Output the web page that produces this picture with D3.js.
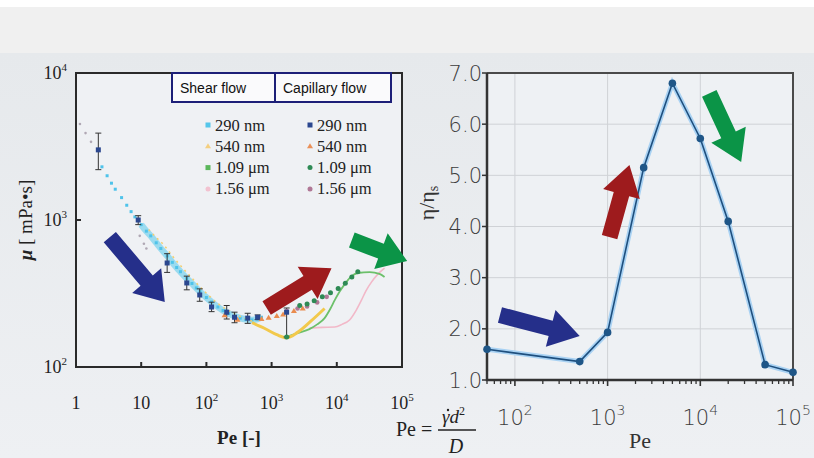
<!DOCTYPE html>
<html><head><meta charset="utf-8">
<script src="https://cdn.jsdelivr.net/npm/d3@7"></script>
<style>body{margin:0;padding:0;overflow:hidden;background:#fff}svg{display:block}</style>
</head><body>
<svg id="c" width="814" height="458"></svg>
<script>
// ---------------- DATA (left: viscosity vs Pe) ----------------
const leftXTicks = [1, 10, 100, 1000, 10000, 100000];
const leftYTicks = [100, 1000, 10000];
// Shear flow series [Pe, mu]
const shear290 = [[2.5,2300],[3,2000],[3.5,1780],[4,1620],[5,1420],[6,1260],[7,1140],[8,1050],[10,930],[12,840],[14,780],[17,700],[20,640],[25,570],[30,515],[35,475],[40,445],[50,400],[60,370],[70,345],[80,325],[100,297],[120,277],[150,256],[180,242],[220,231],[270,222],[330,215],[400,211],[500,209],[600,212],[700,218]];
const shear540Dots = [[13,860],[17,760],[22,680],[30,570],[40,490],[55,420],[80,350],[110,305],[150,270],[200,248],[280,228],[380,215],[500,205]];
const shear540Line = [[500,200],[800,182],[1200,166],[1700,158],[2500,172],[4000,205],[6500,250]];
const shear109Line = [[1700,160],[2500,170],[3800,181],[5000,195],[6500,215],[8000,250],[9300,285],[11000,325],[13000,362],[16000,405],[21000,436],[32000,442],[45000,430],[54000,410]];
const shear156Line = [[3800,184],[6000,186],[9300,187],[12000,195],[15700,209],[20000,245],[24000,286],[28000,330],[34000,378],[42000,425],[54000,470]];
const shear156Dots = [[1.15,4500],[1.4,3900],[1.7,3400],[9.5,780],[11,690],[12,640]];
// Capillary flow series [Pe, mu, low, high]
const cap290 = [[2.2,3000,2200,3900],[9,1000,930,1070],[25,510,440,590],[50,373,335,415],[79,309,280,340],[120,256,238,276],[205,236,212,262],[270,218,200,236],[430,215,198,232],[610,218,210,226],[1700,236,160,252]];
const cap540 = [[190,225],[300,210],[700,212],[900,216],[1200,222],[1500,228],[2200,240],[3000,250]];
const cap109 = [[1700,160],[2700,262],[3500,268],[4500,282],[6000,300],[8000,320],[10500,342],[13500,372],[17000,410],[21000,445]];
const cap156 = [[1700,240],[2500,250],[3500,258],[5000,275],[7000,300]];
const legendSizes = ["290 nm","540 nm","1.09 μm","1.56 μm"];
const legendHeads = ["Shear flow","Capillary flow"];

// ---------------- DATA (right: eta/eta_s vs Pe) ----------------
const rightPe = [50, 500, 1000, 2450, 5000, 10000, 20000, 50000, 100000];
const rightEta = [1.6, 1.36, 1.93, 5.15, 6.8, 5.72, 4.1, 1.3, 1.15];
const rightYTicks = [1, 2, 3, 4, 5, 6, 7];
const rightXTicks = [100, 1000, 10000, 100000];

// Arrows [tailPe, tailVal, tipPe, tipVal]
const leftArrows = [
  {c:"#252f8a", a:[3.3,765,23,277]},
  {c:"#9e1b1d", a:[840,252,8300,470]},
  {c:"#0b9447", a:[17000,730,120000,526]}
];
const rightArrows = [
  {c:"#252f8a", a:[69,2.27,500,1.86]},
  {c:"#9e1b1d", a:[1050,3.79,1720,5.2]},
  {c:"#0b9447", a:[12500,6.6,27600,5.26]}
];

// ---------------- DRAW ----------------
const svg = d3.select("#c");
const defs = svg.append("defs");
const g1 = defs.append("linearGradient").attr("id","bg").attr("x1",0).attr("y1",0).attr("x2",0).attr("y2",1);
g1.append("stop").attr("offset","0").attr("stop-color","#e6e9ec");
g1.append("stop").attr("offset","1").attr("stop-color","#eef0f3");
svg.append("rect").attr("width",814).attr("height",458).attr("fill","#fff");
svg.append("rect").attr("y",7).attr("width",814).attr("height",46).attr("fill","#f0f0f0");
svg.append("rect").attr("y",53).attr("width",814).attr("height",405).attr("fill","url(#bg)");

const serif = "'Liberation Serif','Times New Roman',serif";
const sans = "'Liberation Sans',Arial,sans-serif";
const thin = "'DejaVu Sans',sans-serif";

function supLabel(sel, v, supfs, dy){
  const e = Math.round(Math.log10(v));
  if (e === 0) { sel.text("1"); return; }
  if (e === 1) { sel.text("10"); return; }
  sel.append("tspan").text("10");
  sel.append("tspan").attr("font-size",supfs).attr("dy",dy).text(e);
}
function arrowPath(x1,y1,x2,y2,sw,hw,hl){
  const L = Math.hypot(x2-x1,y2-y1), ux=(x2-x1)/L, uy=(y2-y1)/L, nx=-uy, ny=ux;
  const bx=x2-ux*hl, by=y2-uy*hl;
  const p=[[x1+nx*sw/2,y1+ny*sw/2],[bx+nx*sw/2,by+ny*sw/2],[bx+nx*hw/2,by+ny*hw/2],[x2,y2],[bx-nx*hw/2,by-ny*hw/2],[bx-nx*sw/2,by-ny*sw/2],[x1-nx*sw/2,y1-ny*sw/2]];
  return "M"+p.map(q=>q.join(",")).join("L")+"Z";
}

// ===== LEFT CHART =====
const xL = d3.scaleLog().domain([1,1e5]).range([76,402]);
const yL = d3.scaleLog().domain([100,1e4]).range([367,73]);
const L = svg.append("g");
L.append("rect").attr("x",76).attr("y",73).attr("width",326).attr("height",294).attr("fill","#eff1f4");

const lineL = d3.line().x(d=>xL(d[0])).y(d=>yL(d[1])).curve(d3.curveMonotoneX);
L.append("path").attr("d",lineL(shear290.filter(d=>d[0]>=9))).attr("fill","none").attr("stroke","#7fd3ee").attr("stroke-width",6.5).attr("stroke-opacity",0.75);
L.selectAll(".s290").data(shear290).join("rect").attr("x",d=>xL(d[0])-1.5).attr("y",d=>yL(d[1])-1.5).attr("width",3).attr("height",3).attr("fill","#4fc3ea");
L.append("path").attr("d",lineL(shear540Dots)).attr("fill","none").attr("stroke","#f3cf72").attr("stroke-width",1.5).attr("stroke-dasharray","2,4");
L.selectAll(".s156d").data(shear156Dots).join("circle").attr("cx",d=>xL(d[0])).attr("cy",d=>yL(d[1])).attr("r",1.3).attr("fill","#b0a8b4");
L.append("path").attr("d",lineL(shear156Line)).attr("fill","none").attr("stroke","#f2b8c8").attr("stroke-width",1.6);
L.append("path").attr("d",lineL(shear109Line)).attr("fill","none").attr("stroke","#6cc06a").attr("stroke-width",1.8);
L.append("path").attr("d",lineL(shear540Line)).attr("fill","none").attr("stroke","#f2c94c").attr("stroke-width",3);

L.selectAll(".eb").data(cap290).join("path")
  .attr("d",d=>`M${xL(d[0])},${yL(d[2])}V${yL(d[3])}M${xL(d[0])-3},${yL(d[2])}h6M${xL(d[0])-3},${yL(d[3])}h6`)
  .attr("stroke","#333").attr("stroke-width",1).attr("fill","none");
L.selectAll(".c156").data(cap156).join("circle").attr("cx",d=>xL(d[0])).attr("cy",d=>yL(d[1])).attr("r",2.3).attr("fill","#b07896");
L.selectAll(".c540").data(cap540).join("path").attr("d",d=>{const x=xL(d[0]),y=yL(d[1]);return `M${x},${y-3}L${x+3},${y+2}L${x-3},${y+2}Z`;}).attr("fill","#ea8c4e");
L.selectAll(".c109").data(cap109).join("circle").attr("cx",d=>xL(d[0])).attr("cy",d=>yL(d[1])).attr("r",2.5).attr("fill","#2e8a55");
L.selectAll(".c290").data(cap290).join("rect").attr("x",d=>xL(d[0])-2.5).attr("y",d=>yL(d[1])-2.5).attr("width",5).attr("height",5).attr("fill","#2b478f");

L.append("rect").attr("x",76).attr("y",73).attr("width",326).attr("height",294).attr("fill","none").attr("stroke","#2a2a2a").attr("stroke-width",2);
L.selectAll(".xt").data(leftXTicks.slice(1,-1)).join("line").attr("x1",d=>xL(d)).attr("x2",d=>xL(d)).attr("y1",367).attr("y2",362).attr("stroke","#2a2a2a").attr("stroke-width",2);
L.selectAll(".yt").data([1000]).join("line").attr("x1",76).attr("x2",81).attr("y1",d=>yL(d)).attr("y2",d=>yL(d)).attr("stroke","#2a2a2a").attr("stroke-width",2);
L.selectAll(".xl").data(leftXTicks).join("text").attr("x",d=>xL(d)).attr("y",409).attr("text-anchor","middle")
  .attr("font-family",serif).attr("font-size",18).attr("fill","#222").each(function(d){supLabel(d3.select(this),d,11,-8);});
L.selectAll(".yl").data(leftYTicks).join("text").attr("x",67).attr("y",d=>yL(d)+6).attr("text-anchor","end")
  .attr("font-family",serif).attr("font-size",18).attr("fill","#222").each(function(d){supLabel(d3.select(this),d,11,-8);});
L.append("text").attr("x",239).attr("y",444).attr("text-anchor","middle").attr("font-family",serif).attr("font-size",19).attr("font-weight","bold").attr("fill","#222").text("Pe [-]");
const yt = L.append("text").attr("transform","translate(32,220) rotate(-90)").attr("text-anchor","middle").attr("font-family",serif).attr("font-size",19).attr("fill","#222");
yt.append("tspan").attr("font-style","italic").attr("font-weight","bold").text("μ");
yt.append("tspan").text(" [ mPa•s]");

// legend
const heads = L.selectAll(".lh").data(legendHeads).join("g");
heads.append("rect").attr("x",(d,i)=>i?275:172).attr("y",73).attr("width",(d,i)=>i?116:103).attr("height",29).attr("fill","#fafafc").attr("stroke","#1d1f78").attr("stroke-width",2);
heads.append("text").attr("x",(d,i)=>i?283:180).attr("y",93).attr("font-family",sans).attr("font-size",14).attr("fill","#111").text(d=>d);
const rowY = i=>125+i*21.3;
const shearCols = ["#55c6ea","#f4cf80","#5bb75b","#f2c2d0"];
const capCols = ["#2b478f","#ea9058","#2e8a55","#b07896"];
const shapes = ["sq","tri","sq","dot"], capShapes=["sq","tri","dot","dot"];
function marker(sel,x,y,shape,col){
  if(shape==="sq") sel.append("rect").attr("x",x-2.5).attr("y",y-2.5).attr("width",5).attr("height",5).attr("fill",col);
  else if(shape==="tri") sel.append("path").attr("d",`M${x},${y-3}L${x+3},${y+2}L${x-3},${y+2}Z`).attr("fill",col);
  else sel.append("circle").attr("cx",x).attr("cy",y).attr("r",2.5).attr("fill",col);
}
legendSizes.forEach((s,i)=>{
  marker(L,208,rowY(i),shapes[i],shearCols[i]);
  L.append("text").attr("x",215).attr("y",rowY(i)+5.5).attr("font-family",serif).attr("font-size",16.5).attr("fill","#222").text(s);
  marker(L,310,rowY(i),capShapes[i],capCols[i]);
  L.append("text").attr("x",317).attr("y",rowY(i)+5.5).attr("font-family",serif).attr("font-size",16.5).attr("fill","#222").text(s);
});

// ===== RIGHT CHART =====
const xR = d3.scaleLog().domain([50,1e5]).range([487,793]);
const yR = d3.scaleLinear().domain([1,7]).range([380,73]);
const R = svg.append("g");
R.append("rect").attr("x",487).attr("y",73).attr("width",306).attr("height",307).attr("fill","#eef1f4");
R.selectAll(".gx").data(rightXTicks.slice(0,-1)).join("line").attr("x1",d=>xR(d)).attr("x2",d=>xR(d)).attr("y1",73).attr("y2",380).attr("stroke","#cfd2d6").attr("stroke-width",1);
R.selectAll(".gy").data(rightYTicks.slice(1,-1)).join("line").attr("x1",487).attr("x2",793).attr("y1",d=>yR(d)).attr("y2",d=>yR(d)).attr("stroke","#cfd2d6").attr("stroke-width",1);
const minor = [];
[10,100,1000,10000].forEach(b=>{for(let k=2;k<10;k++){const v=b*k; if(v>=50&&v<=1e5) minor.push(v);}});
R.selectAll(".mt").data(minor).join("line").attr("x1",d=>xR(d)).attr("x2",d=>xR(d)).attr("y1",380).attr("y2",384).attr("stroke","#333").attr("stroke-width",1.3);
R.selectAll(".Mt").data(rightXTicks).join("line").attr("x1",d=>xR(d)).attr("x2",d=>xR(d)).attr("y1",380).attr("y2",386).attr("stroke","#333").attr("stroke-width",1.6);
R.selectAll(".yt").data(rightYTicks).join("line").attr("x1",482).attr("x2",487).attr("y1",d=>yR(d)).attr("y2",d=>yR(d)).attr("stroke","#333").attr("stroke-width",1.5);
R.append("path").attr("d","M487,73H793V380").attr("fill","none").attr("stroke","#4a4a4a").attr("stroke-width",2);
R.append("path").attr("d","M487,73V380H793").attr("fill","none").attr("stroke","#333").attr("stroke-width",2.5);
const rd = rightPe.map((p,i)=>[p,rightEta[i]]);
const lineR = d3.line().x(d=>xR(d[0])).y(d=>yR(d[1]));
R.append("path").attr("d",lineR(rd)).attr("fill","none").attr("stroke","#a9d2f3").attr("stroke-width",5);
R.append("path").attr("d",lineR(rd)).attr("fill","none").attr("stroke","#1e4f7e").attr("stroke-width",1.6);
R.selectAll(".pt").data(rd).join("circle").attr("cx",d=>xR(d[0])).attr("cy",d=>yR(d[1])).attr("r",3.8).attr("fill","#1f5687");
R.selectAll(".yl").data(rightYTicks).join("text").attr("x",482).attr("y",d=>yR(d)+7.5).attr("text-anchor","end")
  .attr("font-family",thin).attr("font-weight",200).attr("font-size",21).attr("fill","#3c3c3c").text(d=>d.toFixed(1));
R.selectAll(".xl").data(rightXTicks).join("text").attr("x",d=>xR(d)).attr("y",425).attr("text-anchor","middle")
  .attr("font-family",thin).attr("font-weight",200).attr("font-size",21).attr("fill","#3c3c3c").each(function(d){supLabel(d3.select(this),d,14,-10);});
R.append("text").attr("x",640).attr("y",448).attr("text-anchor","middle").attr("font-family",serif).attr("font-size",22).attr("fill","#333").text("Pe");
const et = R.append("text").attr("transform","translate(434,203) rotate(-90)").attr("text-anchor","middle").attr("font-family",serif).attr("font-size",22).attr("fill","#333");
et.append("tspan").text("η/η");
et.append("tspan").attr("font-size",14).attr("dy",4).text("s");
// formula
const F = svg.append("g").attr("font-family",serif).attr("fill","#222");
F.append("text").attr("x",396).attr("y",436).attr("font-size",20).text("Pe =");
const num = F.append("text").attr("x",442).attr("y",423).attr("font-size",19).attr("font-style","italic");
num.append("tspan").text("γd");
num.append("tspan").attr("font-size",12).attr("dy",-8).attr("font-style","normal").text("2");
F.append("circle").attr("cx",448).attr("cy",410).attr("r",1.2).attr("fill","#222");
F.append("line").attr("x1",438).attr("x2",476).attr("y1",430).attr("y2",430).attr("stroke","#222").attr("stroke-width",1.3);
F.append("text").attr("x",456).attr("y",453).attr("text-anchor","middle").attr("font-size",20).attr("font-style","italic").text("D");

leftArrows.forEach(a=>{
  svg.append("path").attr("d",arrowPath(xL(a.a[0]),yL(a.a[1]),xL(a.a[2]),yL(a.a[3]),16,38,28)).attr("fill",a.c);
});
rightArrows.forEach(a=>{
  svg.append("path").attr("d",arrowPath(xR(a.a[0]),yR(a.a[1]),xR(a.a[2]),yR(a.a[3]),16,38,30)).attr("fill",a.c);
});
</script>
</body></html>
